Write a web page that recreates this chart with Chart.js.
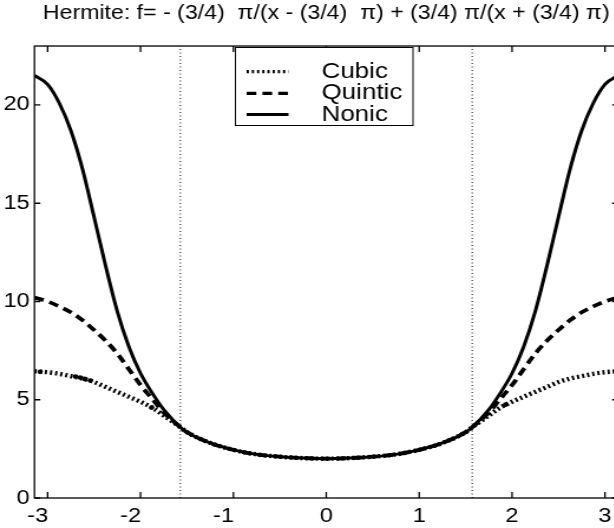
<!DOCTYPE html>
<html>
<head>
<meta charset="utf-8">
<script src="https://cdn.jsdelivr.net/npm/chart.js@4/dist/chart.umd.min.js"></script>
<style>
  html, body { margin: 0; padding: 0; background: #fff; overflow: hidden; }
  /* the figure is drawn narrow and widened on screen */
  #plot { display: block; transform: scaleX(1.18); transform-origin: 0 0; }
</style>
</head>
<body>
<canvas id="plot" width="530" height="528"></canvas>
<script>
const titleText = 'Hermite: f= - (3/4)  \u03c0/(x - (3/4)  \u03c0) + (3/4) \u03c0/(x + (3/4) \u03c0)';
const seriesNames = ['Cubic', 'Quintic', 'Nonic'];

const xs = [-3.1416, -3.0, -2.875, -2.75, -2.625, -2.5, -2.375, -2.25, -2.125, -2.0, -1.875, -1.75, -1.5708,
  -1.5, -1.25, -1.0, -0.75, -0.5, -0.25, 0, 0.25, 0.5, 0.75, 1.0, 1.25, 1.5,
  1.5708, 1.75, 1.875, 2.0, 2.125, 2.25, 2.375, 2.5, 2.625, 2.75, 2.875, 3.0, 3.1416];

const cubic = [6.45, 6.4, 6.32, 6.2, 6.08, 5.9, 5.65, 5.4, 5.15, 4.9, 4.6, 4.2, 3.6,
  3.35, 2.8, 2.45, 2.22, 2.1, 2.03, 2.0, 2.03, 2.1, 2.22, 2.45, 2.8, 3.35,
  3.6, 4.2, 4.6, 4.9, 5.15, 5.4, 5.65, 5.9, 6.08, 6.2, 6.32, 6.4, 6.45];

const quintic = [10.2, 10.0, 9.75, 9.45, 9.05, 8.55, 8.0, 7.35, 6.55, 5.75, 5.05, 4.35, 3.6,
  3.35, 2.8, 2.45, 2.22, 2.1, 2.03, 2.0, 2.03, 2.1, 2.22, 2.45, 2.8, 3.35,
  3.6, 4.35, 5.05, 5.75, 6.55, 7.35, 8.0, 8.55, 9.05, 9.45, 9.75, 10.0, 10.2];

const nonic = [21.5, 21.05, 20.1, 18.7, 16.75, 14.3, 11.8, 9.5, 7.7, 6.35, 5.35, 4.5, 3.6,
  3.35, 2.8, 2.45, 2.22, 2.1, 2.03, 2.0, 2.03, 2.1, 2.22, 2.45, 2.8, 3.35,
  3.6, 4.5, 5.35, 6.35, 7.7, 9.5, 11.8, 14.3, 16.75, 18.7, 20.1, 21.05, 21.5];

// heavier dots sitting on the cubic curve
const cubicMarkX = [-3.08, -2.70, -2.65, -2.60, -2.54, -1.88, 1.93];
const cubicMarkY = [6.42, 6.18, 6.13, 6.06, 5.98, 4.6, 4.75];

const xTicks = [-3, -2, -1, 0, 1, 2, 3];
const yTicks = [0, 5, 10, 15, 20];
const guideXs = [-Math.PI / 2, Math.PI / 2];
const yMax = 23;

const fontFamily = '"Liberation Sans", Arial, Helvetica, sans-serif';

function toPoints(ys) {
  return xs.map((x, i) => ({ x: x, y: ys[i] }));
}

const curveStyle = {
  fill: false,
  pointRadius: 0,
  borderColor: '#000',
  cubicInterpolationMode: 'monotone',
  borderCapStyle: 'butt'
};

const datasets = [
  Object.assign({ label: seriesNames[0], data: toPoints(cubic), borderWidth: 4.4, borderDash: [1.9, 2.5] }, curveStyle),
  Object.assign({ label: seriesNames[1], data: toPoints(quintic), borderWidth: 3.8, borderDash: [8.2, 5.2] }, curveStyle),
  Object.assign({ label: seriesNames[2], data: toPoints(nonic), borderWidth: 3 }, curveStyle),
  {
    label: 'marks',
    data: cubicMarkX.map((x, i) => ({ x: x, y: cubicMarkY[i] })),
    showLine: false,
    pointRadius: 2.3,
    pointBorderWidth: 0,
    pointBackgroundColor: '#000'
  }
];

// dotted verticals at the ends of the interpolation interval
guideXs.forEach(gx => {
  datasets.push({
    label: 'guide',
    data: [{ x: gx, y: 0 }, { x: gx, y: yMax }],
    borderColor: '#000',
    borderWidth: 1,
    borderDash: [1, 2.5],
    pointRadius: 0,
    fill: false
  });
});

// box with inward ticks on all four sides
const frame = {
  id: 'frame',
  afterDatasetsDraw(chart) {
    const { ctx, chartArea: a, scales: { x, y } } = chart;
    ctx.save();
    ctx.strokeStyle = '#000';
    ctx.lineWidth = 1.3;
    ctx.setLineDash([]);
    ctx.strokeRect(a.left, a.top, a.right - a.left, a.bottom - a.top);
    ctx.beginPath();
    x.ticks.forEach(t => {
      const px = x.getPixelForValue(t.value);
      ctx.moveTo(px, a.bottom); ctx.lineTo(px, a.bottom - 6);
      ctx.moveTo(px, a.top); ctx.lineTo(px, a.top + 6);
    });
    y.ticks.forEach(t => {
      const py = y.getPixelForValue(t.value);
      ctx.moveTo(a.left, py); ctx.lineTo(a.left + 5, py);
      ctx.moveTo(a.right, py); ctx.lineTo(a.right - 5, py);
    });
    ctx.stroke();
    ctx.restore();
  }
};

// boxed legend inside the top of the axes
const legendBox = {
  id: 'legendBox',
  afterDraw(chart) {
    const ctx = chart.ctx;
    const left = 199.5, top = 47.5, width = 150.5, height = 78;
    const rows = [71.7, 93.3, 114.5];
    ctx.save();
    ctx.fillStyle = '#fff';
    ctx.fillRect(left, top, width, height);
    ctx.strokeStyle = '#000';
    ctx.lineWidth = 1;
    ctx.strokeRect(left, top, width, height);
    ctx.font = '22px ' + fontFamily;
    ctx.textBaseline = 'middle';
    ctx.textAlign = 'left';
    ctx.fillStyle = '#000';
    chart.data.datasets.slice(0, 3).forEach((ds, i) => {
      ctx.beginPath();
      ctx.lineWidth = Math.min(ds.borderWidth, 3.3);
      ctx.lineCap = 'butt';
      ctx.setLineDash(ds.borderDash || []);
      ctx.moveTo(209, rows[i]);
      ctx.lineTo(244.5, rows[i]);
      ctx.stroke();
      ctx.fillText(ds.label, 272.5, rows[i]);
    });
    ctx.restore();
  }
};

new Chart(document.getElementById('plot'), {
  type: 'line',
  data: { datasets: datasets },
  plugins: [frame, legendBox],
  options: {
    responsive: false,
    animation: false,
    layout: { padding: { left: 0, right: 6.2, top: 0, bottom: 0 } },
    plugins: {
      legend: { display: false },
      tooltip: { enabled: false },
      title: {
        display: true,
        text: titleText,
        fullSize: false,
        color: '#000',
        font: { family: fontFamily, size: 19.6, weight: 'normal', lineHeight: 1.2 },
        padding: { top: 2, bottom: 20.5 }
      }
    },
    scales: {
      x: {
        type: 'linear',
        min: -Math.PI,
        max: Math.PI,
        afterBuildTicks: s => { s.ticks = xTicks.map(v => ({ value: v })); },
        afterFit: s => { s.height = 30; },
        grid: { display: false, drawTicks: false },
        border: { display: false },
        ticks: {
          color: '#000', padding: 6, autoSkip: false, maxRotation: 0,
          font: { family: fontFamily, size: 20 },
          // keep the digit under the tick and let the minus sign hang left
          callback: v => (v < 0 ? String(v) + '   ' : String(v))
        }
      },
      y: {
        min: 0,
        max: yMax,
        afterBuildTicks: s => { s.ticks = yTicks.map(v => ({ value: v })); },
        afterFit: s => { s.width = 29.2; },
        grid: { display: false, drawTicks: false },
        border: { display: false },
        ticks: { color: '#000', padding: 4, font: { family: fontFamily, size: 20 } }
      }
    }
  }
});
</script>
</body>
</html>
